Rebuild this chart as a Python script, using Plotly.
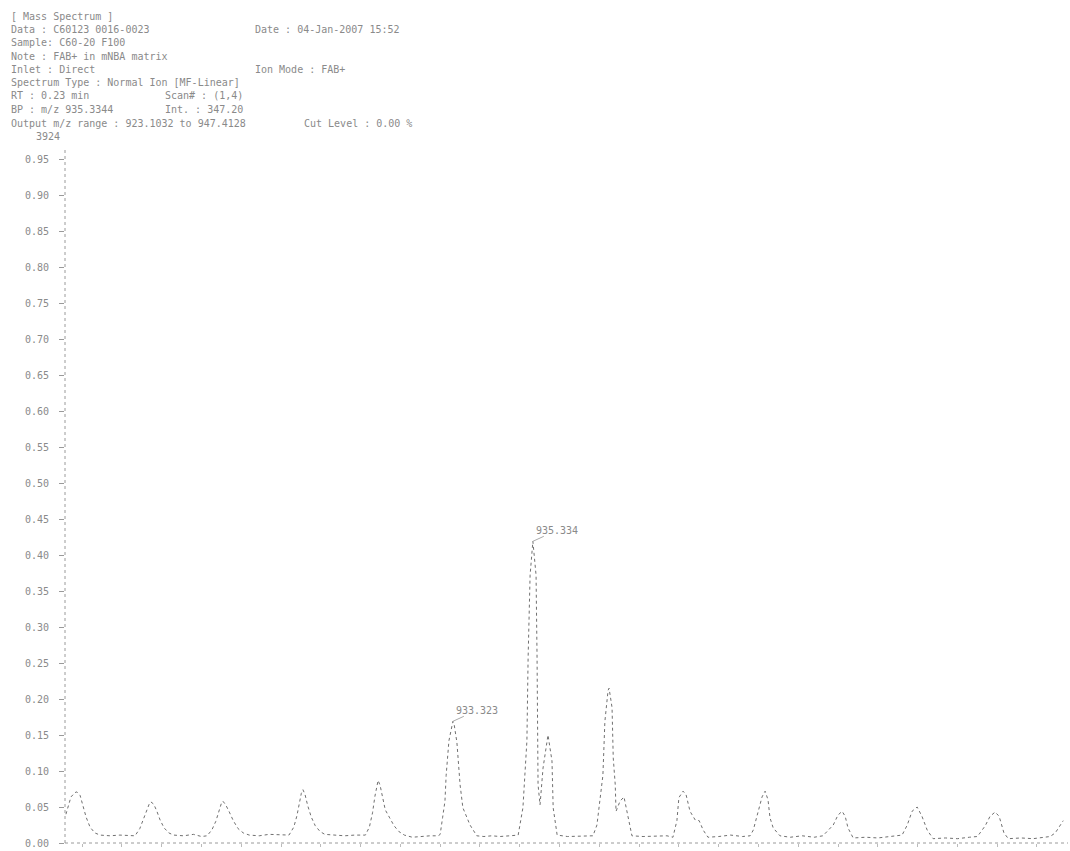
import plotly.graph_objects as go

# ---- data ----
mz = [
    923.594, 923.65, 923.72, 923.82, 923.87, 923.95, 924.02, 924.10, 924.20, 924.32, 924.45, 924.70, 924.95, 925.20,
    925.33, 925.45, 925.55, 925.63, 925.70, 925.73, 925.80, 925.88, 925.96, 926.06, 926.18, 926.30, 926.55, 926.80, 927.00,
    927.14, 927.26, 927.36, 927.44, 927.50, 927.54, 927.61, 927.70, 927.80, 927.92, 928.05, 928.20, 928.45, 928.70, 928.95,
    929.20, 929.32, 929.40, 929.46, 929.51, 929.55, 929.60, 929.67, 929.76, 929.86, 929.98, 930.10, 930.35, 930.60, 930.85,
    931.12, 931.22, 931.30, 931.36, 931.41, 931.44, 931.49, 931.55, 931.62, 931.72, 931.84, 931.96, 932.10, 932.30, 932.50, 932.75,
    932.95, 933.00, 933.06, 933.12, 933.15, 933.22, 933.32, 933.35, 933.42, 933.50, 933.57, 933.75, 933.92, 934.10, 934.30, 934.50, 934.75,
    934.96, 935.08, 935.18, 935.21, 935.26, 935.33, 935.41, 935.435, 935.45, 935.46, 935.51, 935.585, 935.71, 935.81, 935.84, 935.94, 936.20, 936.50, 936.80,
    936.84, 936.94, 937.02, 937.09, 937.14, 937.22, 937.245, 937.32, 937.35, 937.40, 937.42, 937.52, 937.62, 937.72, 937.82, 938.10, 938.40, 938.70,
    938.85, 938.95, 939.00, 939.105, 939.18, 939.28, 939.41, 939.51, 939.61, 939.73, 940.00, 940.30, 940.60, 940.79,
    940.87, 940.99, 941.09, 941.167, 941.24, 941.29, 941.37, 941.54, 941.80, 942.10, 942.40, 942.62,
    942.75, 942.88, 943.00, 943.103, 943.18, 943.25, 943.38, 943.70, 944.00, 944.30, 944.51,
    944.61, 944.74, 944.86, 944.988, 945.11, 945.24, 945.39, 945.70, 946.00, 946.30, 946.50,
    946.57, 946.70, 946.82, 946.949, 947.05, 947.17, 947.28, 947.60, 947.90, 948.15, 948.33,
    948.46, 948.58, 948.66,
]
intensity = [
    0.040, 0.052, 0.064, 0.070, 0.071, 0.066, 0.052, 0.036, 0.022, 0.014, 0.011, 0.010, 0.011, 0.010,
    0.010, 0.020, 0.034, 0.048, 0.056, 0.057, 0.054, 0.044, 0.032, 0.021, 0.014, 0.011, 0.010, 0.012, 0.009,
    0.010, 0.018, 0.030, 0.045, 0.055, 0.058, 0.053, 0.043, 0.031, 0.020, 0.014, 0.011, 0.010, 0.012, 0.011,
    0.011, 0.022, 0.038, 0.055, 0.069, 0.074, 0.068, 0.052, 0.036, 0.024, 0.016, 0.012, 0.011, 0.010, 0.011,
    0.011, 0.022, 0.042, 0.065, 0.082, 0.087, 0.080, 0.062, 0.046, 0.036, 0.024, 0.016, 0.011, 0.008, 0.009, 0.010,
    0.010, 0.012, 0.035, 0.058, 0.094, 0.142, 0.169, 0.165, 0.140, 0.081, 0.049, 0.025, 0.010, 0.009, 0.010, 0.009, 0.010,
    0.011, 0.049, 0.142, 0.257, 0.372, 0.419, 0.372, 0.257, 0.142, 0.081, 0.053, 0.104, 0.150, 0.114, 0.049, 0.011, 0.009, 0.009, 0.010,
    0.010, 0.025, 0.058, 0.094, 0.169, 0.212, 0.215, 0.188, 0.118, 0.081, 0.044, 0.058, 0.064, 0.037, 0.010, 0.009, 0.009, 0.010,
    0.008, 0.031, 0.063, 0.072, 0.067, 0.044, 0.032, 0.031, 0.018, 0.008, 0.009, 0.011, 0.009, 0.010,
    0.018, 0.044, 0.064, 0.072, 0.060, 0.035, 0.021, 0.010, 0.008, 0.010, 0.008, 0.010,
    0.017, 0.025, 0.039, 0.044, 0.037, 0.021, 0.007, 0.008, 0.007, 0.009, 0.010,
    0.011, 0.025, 0.044, 0.050, 0.037, 0.018, 0.006, 0.007, 0.006, 0.008, 0.009,
    0.014, 0.024, 0.037, 0.043, 0.037, 0.014, 0.006, 0.007, 0.006, 0.008, 0.009,
    0.014, 0.025, 0.031,
]
peak_mz = [933.32, 935.33]
peak_int = [0.169, 0.419]
peak_labels = ["933.323", "935.334"]

y_ticks = [0.00, 0.05, 0.10, 0.15, 0.20, 0.25, 0.30, 0.35, 0.40, 0.45,
           0.50, 0.55, 0.60, 0.65, 0.70, 0.75, 0.80, 0.85, 0.90, 0.95]
y_tick_text = ["0.00", "0.05", "0.10", "0.15", "0.20", "0.25", "0.30", "0.35", "0.40", "0.45",
               "0.50", "0.55", "0.60", "0.65", "0.70", "0.75", "0.80", "0.85", "0.90", "0.95"]
top_label = "3924"

header_left = [
    "[ Mass Spectrum ]",
    "Data : C60123 0016-0023",
    "Sample: C60-20 F100",
    "Note : FAB+ in mNBA matrix",
    "Inlet : Direct",
    "Spectrum Type : Normal Ion [MF-Linear]",
    "RT : 0.23 min",
    "BP : m/z 935.3344",
    "Output m/z range : 923.1032 to 947.4128",
]
header_right = [
    (1, "Date : 04-Jan-2007 15:52", 253),
    (4, "Ion Mode : FAB+", 253),
    (6, "Scan# : (1,4)", 163),
    (7, "Int. : 347.20", 163),
    (8, "Cut Level : 0.00 %", 302),
]

# ---- layout geometry ----
W, H = 1070, 851
L, R, T, B = 65, 2, 123, 8
PW, PH = W - L - R, H - T - B


def px_x(p):
    return (p - L) / PW


def px_y(p):
    return (H - B - p) / PH


FONT = "DejaVu Sans Mono"
TXT = "#8a8a8a"

fig = go.Figure()
fig.add_trace(go.Scatter(x=mz, y=intensity, mode="lines",
                         line=dict(color="#707070", width=1, dash="dot"),
                         hoverinfo="skip", showlegend=False))

ann = []
row_y = [16, 29, 43, 56, 69, 83, 96, 109, 123]
for i, t in enumerate(header_left):
    ann.append(dict(x=px_x(9), y=px_y(row_y[i]), xref="paper", yref="paper",
                    text=t, showarrow=False, xanchor="left", yanchor="middle",
                    font=dict(family=FONT, size=10, color=TXT)))
for i, t, xp in header_right:
    ann.append(dict(x=px_x(xp), y=px_y(row_y[i]), xref="paper", yref="paper",
                    text=t, showarrow=False, xanchor="left", yanchor="middle",
                    font=dict(family=FONT, size=10, color=TXT)))
ann.append(dict(x=px_x(34), y=px_y(136), xref="paper", yref="paper",
                text=top_label, showarrow=False, xanchor="left", yanchor="middle",
                font=dict(family=FONT, size=10, color=TXT)))
for xm, yv, lab in zip(peak_mz, peak_int, peak_labels):
    ann.append(dict(x=xm, y=yv, xref="x", yref="y", text=lab, showarrow=True,
                    arrowhead=0, arrowwidth=1, arrowcolor="#aaaaaa", ax=24, ay=-11,
                    standoff=0, borderpad=0,
                    font=dict(family=FONT, size=10, color=TXT)))

shapes = [
    dict(type="line", xref="paper", yref="paper", x0=0, x1=0, y0=0, y1=px_y(148),
         line=dict(color="#9a9a9a", width=1, dash="dot")),
    dict(type="line", xref="paper", yref="paper", x0=0, x1=1, y0=0, y1=0,
         line=dict(color="#9a9a9a", width=1, dash="dot")),
]

fig.update_layout(
    width=W, height=H, autosize=False,
    margin=dict(l=L, r=R, t=T, b=B, pad=0),
    paper_bgcolor="white", plot_bgcolor="white",
    font=dict(family=FONT, size=10, color=TXT),
    annotations=ann, shapes=shapes,
    xaxis=dict(range=[923.57, 948.78], showgrid=False, zeroline=False, showline=False,
               ticks="outside", ticklen=3, tickcolor="#bbbbbb", dtick=1, tick0=924,
               showticklabels=False),
    yaxis=dict(range=[0, 1], showgrid=False, zeroline=False, showline=False,
               tickvals=y_ticks, ticktext=y_tick_text, ticks="outside", ticklen=5,
               tickcolor="#9a9a9a", ticklabelstandoff=8,
               tickfont=dict(family=FONT, size=10, color=TXT)),
)

fig.write_html("out.html", config={"displayModeBar": False, "responsive": False},
               post_script="document.body.style.margin='0';")
